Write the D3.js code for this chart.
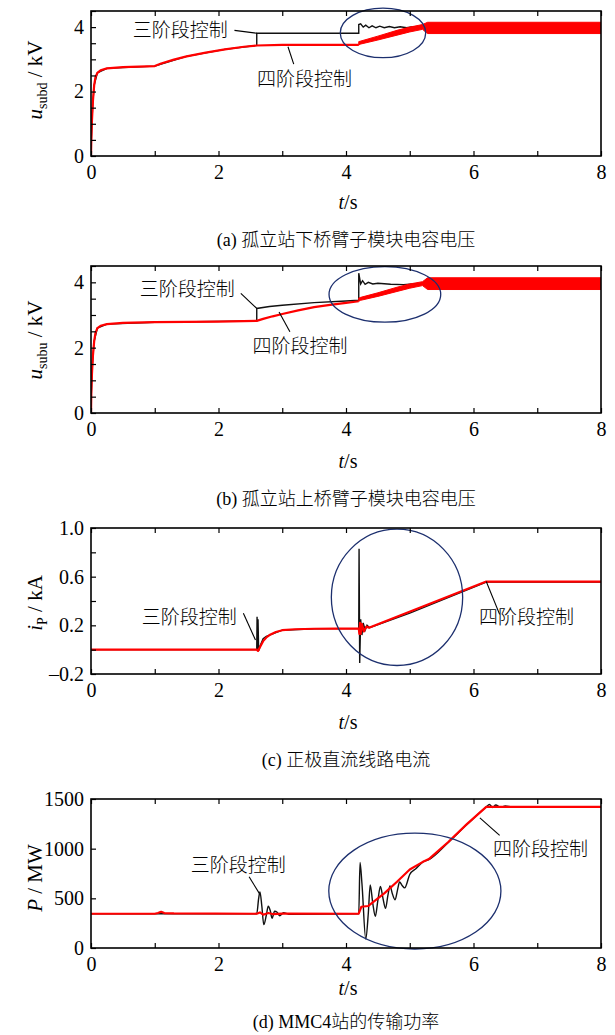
<!DOCTYPE html>
<html>
<head>
<meta charset="utf-8">
<title></title>
<script src="https://cdn.jsdelivr.net/npm/d3@7"></script>
<style>
  body { margin: 0; background: #fff; }
  text { font-family: "Liberation Serif", "Times New Roman", serif; fill: #000; }
  .cjk { font-family: "Noto Sans CJK SC", sans-serif; font-weight: 300; }
</style>
</head>
<body>
<script>

// time axis
var tTicks = [0, 1, 2, 3, 4, 5, 6, 7, 8];
var tLabels = [0, 2, 4, 6, 8];

// (a) lower arm sub-module capacitor voltage, kV
var aRed = [[0,0],[0.005,0.5],[0.015,1.1],[0.03,1.7],[0.05,2.2],[0.07,2.45],[0.1,2.58],[0.15,2.66],[0.25,2.72],[0.5,2.76],[1.0,2.79],[1.1,2.87],[1.3,2.99],[1.5,3.09],[1.8,3.21],[2.1,3.31],[2.4,3.39],[2.6,3.43],[3.0,3.45],[4.2,3.45]];
var aBand = [[4.2,3.44,3.55],[4.22,3.47,3.56],[4.5,3.6,3.72],[4.8,3.75,3.9],[5.0,3.85,4.0],[5.2,3.93,4.08],[5.28,3.8,4.15],[8,3.8,4.15]];
var aBlack = [[0,0],[0.005,0.5],[0.015,1.1],[0.03,1.7],[0.05,2.2],[0.1,2.58],[0.25,2.72],[1.0,2.79],[1.5,3.09],[2.1,3.31],[2.6,3.43],[2.6,3.81],[4.2,3.81],[4.2,4.08],[4.23,4.1],[4.27,4.0],[4.31,4.06],[4.36,3.98],[4.41,4.04],[4.47,3.98],[4.53,4.03],[4.6,3.98],[4.68,4.02],[4.76,3.98],[4.85,4.01],[4.95,3.98],[5.05,4.01],[5.2,3.99],[8,3.99]];
var aYTicks = [0, 0.5, 1, 1.5, 2, 2.5, 3, 3.5, 4, 4.5];
var aYLabels = [0, 2, 4];

// (b) upper arm sub-module capacitor voltage, kV
var bRed = [[0,0],[0.005,0.6],[0.015,1.2],[0.03,1.75],[0.05,2.2],[0.07,2.45],[0.1,2.6],[0.15,2.67],[0.25,2.72],[0.5,2.76],[1.0,2.78],[2.0,2.8],[2.6,2.82],[2.7,2.88],[2.85,2.96],[3.0,3.03],[3.25,3.14],[3.5,3.24],[3.75,3.31],[4.0,3.37],[4.2,3.42]];
var bBand = [[4.2,3.42,3.52],[4.23,3.45,3.54],[4.5,3.57,3.68],[4.8,3.72,3.85],[5.0,3.82,3.95],[5.2,3.9,4.02],[5.28,3.78,4.14],[8,3.78,4.14]];
var bBlack = [[0,0],[0.005,0.6],[0.015,1.2],[0.03,1.75],[0.05,2.2],[0.1,2.6],[0.25,2.72],[1.0,2.78],[2.6,2.82],[2.6,3.2],[2.8,3.26],[3.0,3.3],[3.5,3.38],[4.0,3.43],[4.2,3.45],[4.2,4.28],[4.23,3.95],[4.26,4.05],[4.3,3.94],[4.35,4.0],[4.42,3.95],[4.5,3.97],[4.7,3.94],[4.9,3.93],[5.1,3.96],[5.3,3.97],[8,3.97]];
var bYTicks = [0, 0.5, 1, 1.5, 2, 2.5, 3, 3.5, 4, 4.5];
var bYLabels = [0, 2, 4];

// (c) positive pole DC line current, kA
var cRed = [[0,0],[2.6,0],[2.62,-0.01],[2.66,0.03],[2.7,0.07],[2.75,0.1],[2.8,0.12],[2.9,0.145],[3.0,0.16],[3.2,0.168],[3.5,0.172],[4.2,0.175],[4.21,0.13],[4.22,0.22],[4.23,0.13],[4.25,0.21],[4.28,0.15],[4.32,0.19],[4.36,0.18],[6.2,0.56],[8,0.56]];
var cBlack = [[0,0],[2.6,0],[2.605,0.27],[2.612,0.0],[2.62,0.25],[2.63,-0.01],[2.66,0.04],[2.7,0.09],[2.75,0.11],[2.8,0.12],[2.9,0.14],[3.0,0.16],[3.5,0.172],[4.2,0.175],[4.205,0.83],[4.215,-0.11],[4.23,0.25],[4.25,0.12],[4.27,0.22],[4.3,0.16],[4.33,0.2],[4.37,0.18],[5.0,0.3],[6.2,0.555],[8,0.555]];
var cYTicks = [-0.2, 0, 0.2, 0.4, 0.6, 0.8, 1.0];
var cYLabels = ["\u20130.2", "0.2", "0.6", "1.0"];

// (d) MMC4 transmitted power, MW
var dRed = [[0,345],[1.0,345],[1.05,352],[1.1,365],[1.15,352],[1.3,348],[2.6,345],[2.65,358],[2.7,335],[2.78,352],[2.85,342],[3.0,347],[4.2,345],[4.24,415],[4.35,423],[4.6,550],[4.8,667],[5.0,790],[5.2,865],[5.3,895],[5.6,1065],[5.9,1250],[6.2,1420],[8,1420]];
var dBlack = [[0,345],[2.6,345],[2.63,500],[2.65,565],[2.68,420],[2.71,235],[2.75,330],[2.78,420],[2.81,380],[2.84,300],[2.88,370],[2.92,360],[2.96,325],[3.02,355],[3.1,340],[4.2,345],[4.22,860],[4.25,650],[4.31,90],[4.35,350],[4.38,635],[4.42,450],[4.46,320],[4.5,480],[4.54,620],[4.58,500],[4.62,400],[4.66,540],[4.69,625],[4.73,540],[4.77,485],[4.81,590],[4.84,665],[4.88,630],[4.92,605],[5.0,740],[5.1,800],[5.2,865],[5.3,890],[5.6,1060],[5.9,1245],[6.2,1420],[6.25,1445],[6.3,1415],[6.35,1440],[6.42,1418],[6.5,1430],[6.6,1420],[8,1422]];
var dYTicks = [0, 500, 1000, 1500];
var dYLabels = [0, 500, 1000, 1500];

var width = 615,
    height = 1035,
    left = 91,
    right = 601;

var svg = d3.select("body").append("svg")
    .attr("width", width)
    .attr("height", height);

var panels = [
  { top: 11, bottom: 156, yDomain: [0, 4.5], red: aRed, black: aBlack, band: aBand,
    yTicks: aYTicks, yLabels: aYLabels, fmt: function(d) { return d; },
    ylab: ["u", "subd", " / kV"], ylabY: 80, tsY: 202, capY: 240,
    cap: ["(a) ", "孤立站下桥臂子模块电容电压"],
    three: { t: 1.40, v: 3.9, lead: [[2.25, 3.9], [2.6, 3.81]] },
    four: { t: 3.35, v: 2.38, lead: [[3.09, 3.39], [3.18, 2.85]] },
    ell: [4.58, 3.82, 0.67, 0.77] },
  { top: 266, bottom: 413, yDomain: [0, 4.5], red: bRed, black: bBlack, band: bBand,
    yTicks: bYTicks, yLabels: bYLabels, fmt: function(d) { return d; },
    ylab: ["u", "subu", " / kV"], ylabY: 340, tsY: 461, capY: 499,
    cap: ["(b) ", "孤立站上桥臂子模块电容电压"],
    three: { t: 1.51, v: 3.81, lead: [[2.35, 3.66], [2.6, 3.2]] },
    four: { t: 3.28, v: 2.04, lead: [[2.95, 3.09], [3.12, 2.49]] },
    ell: [4.61, 3.63, 0.876, 0.85] },
  { top: 528, bottom: 674, yDomain: [-0.2, 1.0], red: cRed, black: cBlack,
    yTicks: cYTicks, yLabels: cYLabels, fmt: null,
    ylab: ["i", "P", " / kA"], ylabY: 603, tsY: 722, capY: 760,
    cap: ["(c) ", "正极直流线路电流"],
    three: { t: 1.54, v: 0.27, lead: [[2.39, 0.30], [2.58, 0.08]] },
    four: { t: 6.83, v: 0.27, lead: [[6.41, 0.29], [6.2, 0.56]] },
    ell: [4.8, 0.43, 1.03, 0.56] },
  { top: 799, bottom: 948, yDomain: [0, 1500], red: dRed, black: dBlack, smooth: true,
    yTicks: dYTicks, yLabels: dYLabels, fmt: function(d) { return d; },
    ylab: ["P", "", " / MW"], ylabY: 878, tsY: 988, capY: 1022,
    cap: ["(d) MMC4", "站的传输功率"],
    three: { t: 2.31, v: 833, lead: [[2.48, 717], [2.64, 550]] },
    four: { t: 7.05, v: 1000, lead: [[6.41, 1133], [6.1, 1310]] },
    ell: [5.08, 573, 1.35, 583] }
];

panels.forEach(function(p, i) {
  var x = d3.scaleLinear().domain([0, 8]).range([left, right]);
  var y = d3.scaleLinear().domain(p.yDomain).range([p.bottom, p.top]);
  var g = svg.append("g");

  g.append("clipPath").attr("id", "clip" + i)
    .append("rect")
      .attr("x", left).attr("y", p.top)
      .attr("width", right - left).attr("height", p.bottom - p.top);

  var plot = g.append("g").attr("clip-path", "url(#clip" + i + ")");

  var line = d3.line()
      .x(function(d) { return x(d[0]); })
      .y(function(d) { return y(d[1]); });

  // power oscillations look smooth in the original, t is strictly increasing there
  var blackLine = p.smooth ? d3.line()
      .x(function(d) { return x(d[0]); })
      .y(function(d) { return y(d[1]); })
      .curve(d3.curveMonotoneX) : line;

  plot.append("path").datum(p.black)
      .attr("d", blackLine)
      .attr("fill", "none").attr("stroke", "#111").attr("stroke-width", 1.4);

  plot.append("path").datum(p.red)
      .attr("d", line)
      .attr("fill", "none").attr("stroke", "#f00").attr("stroke-width", 2.2)
      .attr("stroke-linejoin", "round");

  if (p.band) {
    var area = d3.area()
        .x(function(d) { return x(d[0]); })
        .y0(function(d) { return y(d[1]); })
        .y1(function(d) { return y(d[2]); });
    plot.append("path").datum(p.band)
        .attr("d", area)
        .attr("fill", "#f00").attr("stroke", "#f00").attr("stroke-width", 1);
  }

  // blue ellipse
  var e = p.ell;
  g.append("ellipse")
      .attr("cx", x(e[0])).attr("cy", y(e[1]))
      .attr("rx", x(e[2]) - x(0)).attr("ry", y(p.yDomain[0]) - y(p.yDomain[0] + e[3]))
      .attr("fill", "none").attr("stroke", "#1c2f6e").attr("stroke-width", 1.3);

  // frame
  g.append("rect")
      .attr("x", left).attr("y", p.top)
      .attr("width", right - left).attr("height", p.bottom - p.top)
      .attr("fill", "none").attr("stroke", "#000").attr("stroke-width", 1.6);

  // axes
  var xb = g.append("g").attr("transform", "translate(0," + p.bottom + ")")
      .call(d3.axisBottom(x).tickValues(tTicks).tickSize(-5).tickPadding(9)
        .tickFormat(function(d) { return tLabels.indexOf(d) >= 0 ? d : ""; }));
  var xt = g.append("g").attr("transform", "translate(0," + p.top + ")")
      .call(d3.axisTop(x).tickValues(tTicks).tickSize(-5).tickFormat(""));
  var yl = g.append("g").attr("transform", "translate(" + left + ",0)")
      .call(d3.axisLeft(y).tickValues(p.yTicks).tickSize(-5).tickPadding(7)
        .tickFormat(function(d) {
          if (p.fmt) return p.yLabels.indexOf(d) >= 0 ? p.fmt(d) : "";
          var k = [-0.2, 0.2, 0.6, 1.0].findIndex(function(v) { return Math.abs(v - d) < 1e-9; });
          return k >= 0 ? p.yLabels[k] : "";
        }));

  [xb, xt, yl].forEach(function(a) {
    a.select(".domain").remove();
    a.selectAll("line").attr("stroke", "#000").attr("stroke-width", 1.2);
    a.selectAll("text").attr("font-family", "Liberation Serif, serif").attr("font-size", 20).attr("fill", "#000");
  });

  // y label (rotated)
  var yt = g.append("text")
      .attr("transform", "translate(42," + p.ylabY + ") rotate(-90)")
      .attr("text-anchor", "middle").attr("font-size", 21);
  yt.append("tspan").attr("font-style", "italic").text(p.ylab[0]);
  if (p.ylab[1]) yt.append("tspan").attr("font-size", 14).attr("dy", 5).text(p.ylab[1]);
  yt.append("tspan").attr("dy", p.ylab[1] ? -5 : 0).text(p.ylab[2]);

  // t/s label
  var ts = g.append("text")
      .attr("x", 348).attr("y", p.tsY + 7)
      .attr("text-anchor", "middle").attr("font-size", 20);
  ts.append("tspan").attr("font-style", "italic").text("t");
  ts.append("tspan").text("/s");

  // caption
  var cap = g.append("text")
      .attr("x", 346).attr("y", p.capY + 6)
      .attr("text-anchor", "middle").attr("font-size", 18);
  cap.append("tspan").text(p.cap[0]);
  cap.append("tspan").attr("class", "cjk").text(p.cap[1]);

  // annotations
  [["三阶段控制", p.three], ["四阶段控制", p.four]].forEach(function(an) {
    var a = an[1];
    g.append("text").attr("class", "cjk")
        .attr("x", x(a.t)).attr("y", y(a.v) + 7)
        .attr("text-anchor", "middle").attr("font-size", 19)
        .text(an[0]);
    g.append("path").datum(a.lead)
        .attr("d", line)
        .attr("fill", "none").attr("stroke", "#000").attr("stroke-width", 1.1);
  });
});

</script>
</body>
</html>
